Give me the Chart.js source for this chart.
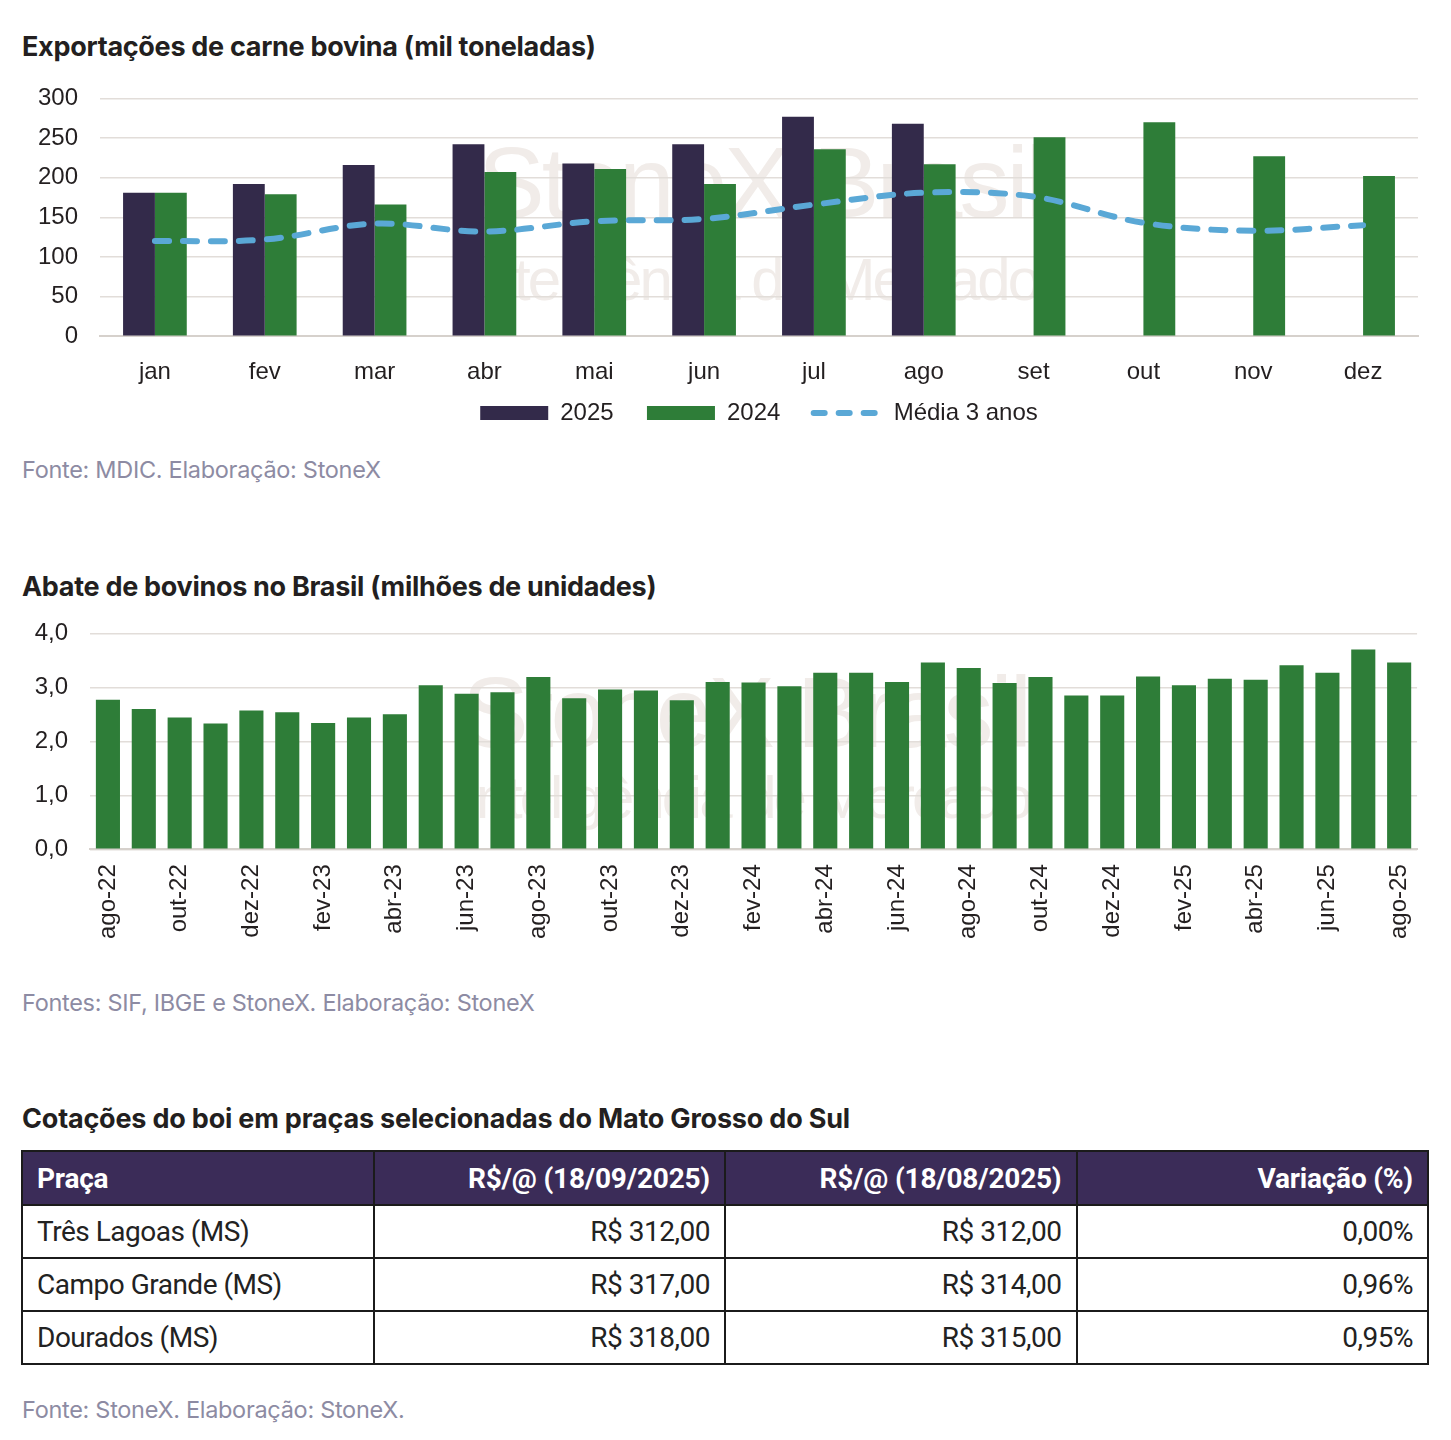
<!DOCTYPE html>
<html lang="pt-BR">
<head>
<meta charset="utf-8">
<title>Carne bovina - StoneX</title>
<script src="https://cdn.jsdelivr.net/npm/chart.js@4.4.1/dist/chart.umd.min.js"></script>
<style>
  body { margin: 0; width: 1451px; height: 1440px; background: #fff; position: relative; overflow: hidden; font-family: "Inter", "Roboto", sans-serif; color: #231f20; }
  .titulo { position: absolute; left: 22px; font-weight: 700; font-size: 27px; letter-spacing: -0.3px; margin: 0; line-height: 1; }
  .fonte { position: absolute; left: 22px; font-size: 23.5px; color: #8d8ba3; letter-spacing: -0.3px; font-weight: 400; line-height: 1; }
  .box { position: absolute; }
  .marca { position: absolute; font-family: "Liberation Sans Narrow", "Liberation Sans", sans-serif; color: #f1ece9; white-space: nowrap; line-height: 1; letter-spacing: -3px; z-index: 0; }
  canvas { position: relative; z-index: 1; }
  table { position: absolute; left: 21px; top: 1150px; width: 1408px; border-collapse: collapse; font-family: "Roboto", "Inter", sans-serif; font-size: 28px; letter-spacing: -0.5px; }
  th, td { border: 2px solid #1b1b1b; height: 51px; padding: 0 14px; width: 25%; }
  th { background: #3b2c58; color: #fff; font-weight: 700; text-align: right; height: 52px; letter-spacing: -0.2px; }
  td { text-align: right; color: #222; }
  th:first-child, td:first-child { text-align: left; }
</style>
</head>
<body>

<h1 class="titulo" style="top:33px">Exportações de carne bovina (mil toneladas)</h1>
<div class="marca" style="left:478px; top:132px; font-size:100px;">StoneX Brasil</div>
<div class="marca" style="left:470px; top:250px; font-size:60px;">Inteligência de Mercado</div>
<div class="box" style="left:20px; top:62px; width:1400px; height:387px;"><canvas id="exportacoes"></canvas></div>
<div class="fonte" style="top:458px">Fonte: MDIC. Elaboração: StoneX</div>

<h1 class="titulo" style="top:573px">Abate de bovinos no Brasil (milhões de unidades)</h1>
<div class="marca" style="left:462px; top:662px; font-size:100px;">StoneX Brasil</div>
<div class="marca" style="left:462px; top:768px; font-size:60px;">Inteligência de Mercado</div>
<div class="box" style="left:20px; top:597px; width:1415px; height:349px;"><canvas id="abate"></canvas></div>
<div class="fonte" style="top:991px">Fontes: SIF, IBGE e StoneX. Elaboração: StoneX</div>

<h1 class="titulo" style="top:1105px; letter-spacing:-0.2px">Cotações do boi em praças selecionadas do Mato Grosso do Sul</h1>
<table id="cotacoes"></table>
<div class="fonte" style="top:1398px">Fonte: StoneX. Elaboração: StoneX.</div>

<script>
// exportações mensais (mil t)
const meses = ["jan", "fev", "mar", "abr", "mai", "jun", "jul", "ago", "set", "out", "nov", "dez"];
const exp2025 = [181, 192, 216, 242, 218, 242, 277, 268, null, null, null, null];
const exp2024 = [181, 179, 166, 207, 211, 192, 236, 217, 251, 270, 227, 202];
const media3anos = [120, 122, 142, 132, 145, 148, 166, 181, 176, 143, 133, 140];
const ticksExp = [0, 50, 100, 150, 200, 250, 300];

// abate mensal (milhões de cabeças), ago-22 a ago-25
const mesesAbate = [
  "ago-22", "set-22", "out-22", "nov-22", "dez-22",
  "jan-23", "fev-23", "mar-23", "abr-23", "mai-23", "jun-23", "jul-23", "ago-23", "set-23", "out-23", "nov-23", "dez-23",
  "jan-24", "fev-24", "mar-24", "abr-24", "mai-24", "jun-24", "jul-24", "ago-24", "set-24", "out-24", "nov-24", "dez-24",
  "jan-25", "fev-25", "mar-25", "abr-25", "mai-25", "jun-25", "jul-25", "ago-25"
];
const abate = [
  2.77, 2.60, 2.44, 2.33, 2.57,
  2.54, 2.34, 2.44, 2.50, 3.04, 2.88, 2.91, 3.19, 2.80, 2.96, 2.94, 2.76,
  3.10, 3.09, 3.02, 3.27, 3.27, 3.10, 3.46, 3.36, 3.08, 3.19, 2.85, 2.85,
  3.20, 3.04, 3.16, 3.14, 3.41, 3.27, 3.70, 3.46
];

// tabela de cotações
const cabecalho = ["Praça", "R$/@ (18/09/2025)", "R$/@ (18/08/2025)", "Variação (%)"];
const pracas = ["Três Lagoas (MS)", "Campo Grande (MS)", "Dourados (MS)"];
const preco0909 = [312, 317, 318];
const preco1808 = [312, 314, 315];
const variacao = [0.00, 0.96, 0.95];

const corTexto = "#231f20";
const corGrade = "#e2ddd9";
const corEixo = "#d6d1cc";
const fonteEixo = "'Liberation Sans', Arial, sans-serif";

const fmtBR = (v, casas) => v.toFixed(casas).replace(".", ",");

// legenda na ordem dos datasets, com a média tracejada;
// o espaço entre itens vem do texto porque o padding empurraria a legenda para baixo
const legendaItens = (chart) => {
  const itens = Chart.defaults.plugins.legend.labels.generateLabels(chart);
  itens.sort((a, b) => a.datasetIndex - b.datasetIndex);
  itens.forEach((it, i) => {
    const ds = chart.data.datasets[it.datasetIndex];
    if (ds.type === "line") {
      it.lineDash = [11, 14];
      it.lineCap = "round";
      it.lineWidth = 6;
      it.strokeStyle = ds.borderColor;
    }
    if (i < itens.length - 1) it.text += "\u00a0\u00a0\u00a0\u00a0\u00a0";
  });
  return itens;
};

// centra a legenda sob a área do gráfico e não sob o canvas inteiro
const legendaNoPlot = {
  id: "legendaNoPlot",
  afterLayout(chart) {
    const lg = chart.legend;
    if (!lg) return;
    const desloc = (chart.chartArea.left + chart.chartArea.right) / 2 - (lg.left + lg.right) / 2;
    lg.left += desloc;
    lg.right += desloc;
  },
};

new Chart(document.getElementById("exportacoes"), {
  type: "bar",
  data: {
    labels: meses,
    datasets: [
      { label: "2025", data: exp2025, backgroundColor: "#332a4a", pointStyle: "rect", order: 2,
        categoryPercentage: 0.58, barPercentage: 1.0 },
      { label: "2024", data: exp2024, backgroundColor: "#2e7d38", pointStyle: "rect", order: 2,
        categoryPercentage: 0.58, barPercentage: 1.0 },
      { label: "Média 3 anos", data: media3anos, type: "line", borderColor: "#5aa8d6",
        backgroundColor: "#5aa8d6", borderWidth: 6, borderDash: [14, 14], borderCapStyle: "round",
        tension: 0.35, pointRadius: 0, pointStyle: "line", order: 1 },
    ],
  },
  plugins: [legendaNoPlot],
  options: {
    responsive: true,
    maintainAspectRatio: false,
    animation: false,
    layout: { padding: { top: 8, right: 2, bottom: 14, left: 0 } },
    plugins: {
      tooltip: { enabled: false },
      legend: {
        position: "bottom",
        labels: {
          usePointStyle: true,
          pointStyleWidth: 68,
          boxHeight: 14,
          padding: 0,
          color: corTexto,
          font: { family: fonteEixo, size: 24 },
          generateLabels: legendaItens,
        },
      },
    },
    scales: {
      x: {
        grid: { display: false },
        border: { color: corEixo, width: 2 },
        ticks: { color: corTexto, font: { family: fonteEixo, size: 24 }, padding: 14 },
      },
      y: {
        min: 0,
        max: 300,
        afterBuildTicks: (axis) => { axis.ticks = ticksExp.map((v) => ({ value: v })); },
        afterFit: (axis) => { axis.width = 80; },
        grid: { color: corGrade, lineWidth: 1.5, drawTicks: false },
        border: { display: false },
        ticks: { color: corTexto, font: { family: fonteEixo, size: 24 }, padding: 22 },
      },
    },
  },
});

new Chart(document.getElementById("abate"), {
  type: "bar",
  data: {
    labels: mesesAbate,
    datasets: [
      { label: "Abate", data: abate, backgroundColor: "#2e7d38", categoryPercentage: 0.7, barPercentage: 0.96 },
    ],
  },
  options: {
    responsive: true,
    maintainAspectRatio: false,
    animation: false,
    layout: { padding: { top: 6, right: 4, bottom: 0, left: 0 } },
    plugins: { legend: { display: false }, tooltip: { enabled: false } },
    scales: {
      x: {
        grid: { display: false },
        border: { color: corEixo, width: 2 },
        ticks: {
          color: corTexto,
          font: { family: fonteEixo, size: 24 },
          autoSkip: false,
          minRotation: 90,
          maxRotation: 90,
          padding: 7,
          callback: (v, i) => (i % 2 === 0 ? mesesAbate[i] : ""),
        },
      },
      y: {
        min: 0,
        max: 4,
        ticks: {
          stepSize: 1,
          color: corTexto,
          font: { family: fonteEixo, size: 24 },
          padding: 22,
          callback: (v) => fmtBR(v, 1),
        },
        afterFit: (axis) => { axis.width = 70; },
        grid: { color: corGrade, lineWidth: 1.5, drawTicks: false },
        border: { display: false },
      },
    },
  },
});

// monta a tabela
const tabela = document.getElementById("cotacoes");
const trHead = document.createElement("tr");
cabecalho.forEach((c) => {
  const th = document.createElement("th");
  th.textContent = c;
  trHead.appendChild(th);
});
tabela.appendChild(trHead);
pracas.forEach((p, i) => {
  const tr = document.createElement("tr");
  [p, "R$ " + fmtBR(preco0909[i], 2), "R$ " + fmtBR(preco1808[i], 2), fmtBR(variacao[i], 2) + "%"].forEach((t) => {
    const td = document.createElement("td");
    td.textContent = t;
    tr.appendChild(td);
  });
  tabela.appendChild(tr);
});
</script>
</body>
</html>
